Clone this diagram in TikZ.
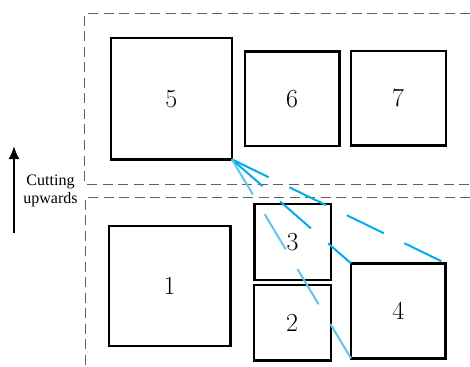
\documentclass[tikz,border=0pt]{standalone}
\usepackage{fontspec}
\usepackage{tikz}
\usetikzlibrary{arrows.meta}
\usetikzlibrary{positioning}
\newfontfamily\capfont{Liberation Serif}
\definecolor{cutdark}{RGB}{0,172,236}
\definecolor{cutlight}{RGB}{95,196,242}
\definecolor{zonegray}{RGB}{96,96,96}
\tikzset{
  blk/.style={rectangle,draw=black,line width=2.4pt,inner sep=0pt,outer sep=0pt,font=\fontsize{26}{30}\selectfont},
  zone/.style={draw=zonegray,line width=1pt,dash pattern=on 10pt off 5.5pt},
  cut/.style={line width=2pt,dash pattern=on 41pt off 23pt}
}

\begin{document}
\begin{tikzpicture}[x=1pt,y=-1pt]
\useasboundingbox (0,0) rectangle (470,366);
% upper and lower zones
\draw[zone] (470,14) -- (84.5,14) -- (84.5,184) -- (470,184);
\draw[zone] (470,197) -- (85,197) -- (85,366);
% direction of the cut
\coordinate (arrbot) at (14,233);
\coordinate (arrtop) at (14,146);
\draw[-{Latex[length=13pt,width=11pt]},line width=2pt] (arrbot) -- (arrtop);
\node at (50.5,191)[align=center,font=\capfont\fontsize{16}{18}\selectfont](lbl){Cutting\\upwards};
% pieces
\node at (171.3,98.8)[blk,minimum width=121pt,minimum height=121pt](b5){5};
\node at (292.2,98.8)[blk,minimum width=94.3pt,minimum height=94.3pt](b6){6};
\node at (398.2,98.3)[blk,minimum width=95pt,minimum height=94.7pt](b7){7};
\node at (169.5,286)[blk,minimum width=121.6pt,minimum height=120pt](b1){1};
\node at (292.7,242)[blk,minimum width=76.7pt,minimum height=76pt](b3){3};
\node at (292.2,322.8)[blk,minimum width=77pt,minimum height=75.7pt](b2){2};
\node at (398.3,310.8)[blk,minimum width=94.7pt,minimum height=95pt](b4){4};
% cutting lines
\draw[cut,cutdark] (b5.south east) -- (b4.north west);
\draw[cut,cutdark] (b5.south east) -- (b4.north east);
\draw[cut,cutlight] (b5.south east) -- (b4.south west);
\end{tikzpicture}
\end{document}
